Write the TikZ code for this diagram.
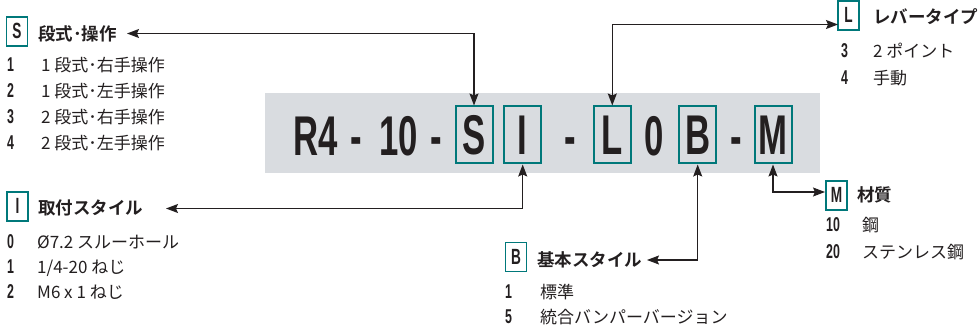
\documentclass[tikz,border=0pt]{standalone}
\usepackage{fontspec}
\setmainfont{Noto Sans CJK JP}[BoldFont={Noto Sans CJK JP Bold}]
\newfontfamily\condfont{Liberation Sans}[FakeStretch=0.62]
\usepackage{tikz}
\usetikzlibrary{arrows.meta}
\definecolor{boxteal}{HTML}{00787A}
\definecolor{codegray}{HTML}{D9DCE0}
\definecolor{inkdark}{HTML}{231F20}

\begin{document}
\begin{tikzpicture}[x=1pt, y=-1pt, every node/.style={text=inkdark},
      >={Stealth[length=12pt,width=9pt,inset=2pt]},
      conn/.style={<->, draw=inkdark, line width=1.2pt},
      codetext/.style={inner sep=0pt, text height=40pt, text depth=0pt,
        font=\condfont\bfseries\fontsize{56}{56}\selectfont},
      codebox/.style={codetext, draw=boxteal, line width=2pt,
        minimum width=37pt, minimum height=57pt},
      keybox/.style={draw=boxteal, line width=1.5pt, inner sep=0pt,
        minimum width=21pt, minimum height=29pt, text height=15pt, text depth=0pt,
        font=\condfont\bfseries\fontsize{22}{22}\selectfont},
      heading/.style={anchor=west, inner sep=2pt, font=\bfseries\fontsize{17.5}{17.5}\selectfont},
      itemnum/.style={anchor=west, inner sep=0pt, text height=13pt, text depth=0pt,
        font=\condfont\bfseries\fontsize{20}{20}\selectfont},
      itemtext/.style={anchor=west, inner sep=0pt, text height=13pt, text depth=0pt,
        font=\fontsize{17}{17}\selectfont}]
      \useasboundingbox (0,0) rectangle (978,326);
      \fill[codegray] (264.5,93.5) rectangle (820,172.7);
      \foreach \part/\x [count=\i] in {R4/316,-/356,10/399,-/436,-/570,0/654,-/736} {%
        \node[codetext] (part\i) at (\x,136) {\part};
      }
      \node[codebox] (S) at (474,135) {S};
      \node[codebox] (I) at (522.7,135) {I};
      \node[codebox] (L) at (612.3,135) {L};
      \node[codebox] (B) at (697.7,135) {B};
      \node[codebox] (M) at (773,135) {M};

      \node[keybox] (skey) at (17,31.5) {S};
      \node[heading] (shead) at (36,34) {段式･操作};
      \foreach \code/\desc [count=\i] in {1/1 段式･右手操作,2/1 段式･左手操作,
          3/2 段式･右手操作,4/2 段式･左手操作} {%
        \node[itemnum] (snum\i) at (7,39+26*\i) {\code};
        \node[itemtext] (sdesc\i) at (41,39+26*\i) {\desc};
      }

      \node[keybox] (lkey) at (848.5,15.5) {L};
      \node[heading] (lhead) at (871,17) {レバータイプ};
      \foreach \code/\desc [count=\i] in {3/2 ポイント,4/手動} {%
        \node[itemnum] (lnum\i) at (841,24+27*\i) {\code};
        \node[itemtext] (ldesc\i) at (873,24+27*\i) {\desc};
      }

      \node[keybox] (ikey) at (17.5,206.5) {I};
      \node[heading] (ihead) at (36,208) {取付スタイル};
      \foreach \code/\desc [count=\i] in {0/Ø7.2 スルーホール,1/{1/4-20 ねじ},2/M6 x 1 ねじ} {%
        \node[itemnum] (inum\i) at (7,216.5+25*\i) {\code};
        \node[itemtext] (idesc\i) at (37,216.5+25*\i) {\desc};
      }

      \node[keybox] (bkey) at (516,257) {B};
      \node[heading] (bhead) at (535,260) {基本スタイル};
      \foreach \code/\desc [count=\i] in {1/標準,5/統合バンパーバージョン} {%
        \node[itemnum] (bnum\i) at (505,266.7+25*\i) {\code};
        \node[itemtext] (bdesc\i) at (540,266.7+25*\i) {\desc};
      }

      \node[keybox] (mkey) at (836.5,195.5) {M};
      \node[heading] (mhead) at (855,195) {材質};
      \foreach \code/\desc [count=\i] in {10/鋼,20/ステンレス鋼} {%
        \node[itemnum] (mnum\i) at (826,198.3+26.7*\i) {\code};
        \node[itemtext] (mdesc\i) at (862,198.3+26.7*\i) {\desc};
      }

      \coordinate (stip) at (127,33.5);
      \coordinate (ltip) at (838,24.5);
      \coordinate (itip) at (166,208.5);
      \coordinate (btip) at (647,260);
      \coordinate (mtip) at (825,192);
      \draw[conn] (S.north) |- (stip);
      \draw[conn] (L.north) |- (ltip);
      \draw[conn] (I.south) |- (itip);
      \draw[conn] (B.south) |- (btip);
      \draw[conn] (M.south) |- (mtip);
    \end{tikzpicture}
\end{document}
